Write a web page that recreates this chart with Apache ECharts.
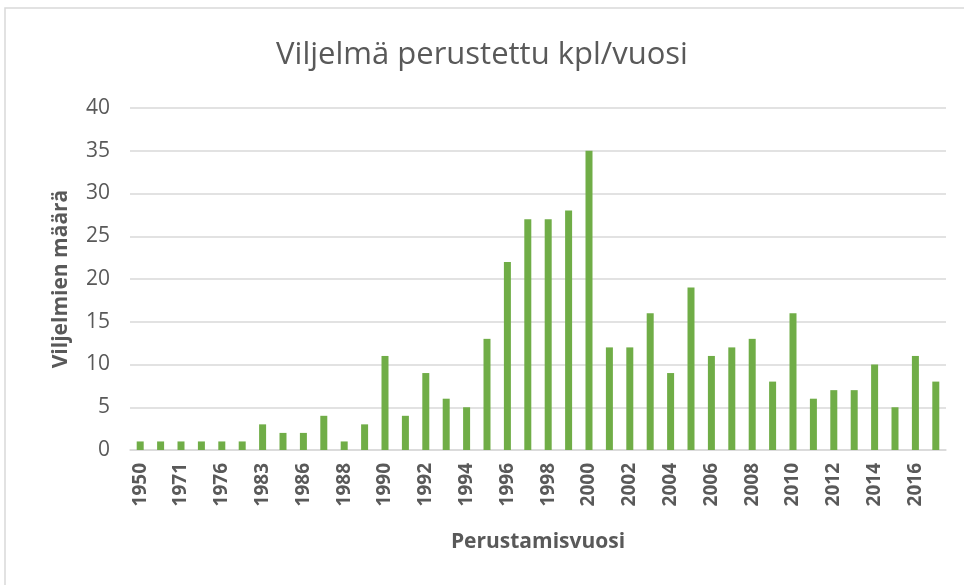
<!DOCTYPE html>
<html>
<head>
<meta charset="utf-8">
<script src="https://cdn.jsdelivr.net/npm/echarts@6/dist/echarts.min.js"></script>
<style>
  html, body { margin: 0; padding: 0; background: #fff; }
  #chart { width: 964px; height: 585px; }
</style>
</head>
<body>
<div id="chart"></div>
<script>
// founding years (every other label is shown on the axis)
const years = [
  "1950", "1960", "1971", "1973", "1976", "1980", "1983", "1985", "1986", "1987",
  "1988", "1989", "1990", "1991", "1992", "1993", "1994", "1995", "1996", "1997",
  "1998", "1999", "2000", "2001", "2002", "2003", "2004", "2005", "2006", "2007",
  "2008", "2009", "2010", "2011", "2012", "2013", "2014", "2015", "2016", "2017"
];
const counts = [
  1, 1, 1, 1, 1, 1, 3, 2, 2, 4,
  1, 3, 11, 4, 9, 6, 5, 13, 22, 27,
  27, 28, 35, 12, 12, 16, 9, 19, 11, 12,
  13, 8, 16, 6, 7, 7, 10, 5, 11, 8
];
const yTicks = [0, 5, 10, 15, 20, 25, 30, 35, 40];

const textColor = "#595959";
const font = "'Open Sans', 'Noto Sans', sans-serif";

const chart = echarts.init(document.getElementById("chart"));

const option = {
  backgroundColor: "#fff",
  animation: false,
  title: {
    text: "Viljelmä perustettu kpl/vuosi",
    left: "center",
    top: 35,
    textStyle: {
      fontFamily: font,
      fontWeight: "normal",
      fontSize: 31,
      color: textColor,
    },
  },
  graphic: [
    {
      type: "rect",
      shape: { x: 5, y: 8, width: 975, height: 600 },
      style: { fill: "none", stroke: "#d9d9d9", lineWidth: 1.5 },
      silent: true,
    },
  ],
  grid: {
    left: 130,
    right: 18,
    top: 108,
    bottom: 135,
  },
  xAxis: {
    type: "category",
    data: years,
    name: "Perustamisvuosi",
    nameLocation: "middle",
    nameGap: 82,
    nameTextStyle: {
      fontFamily: font,
      fontWeight: "bold",
      fontSize: 21,
      color: textColor,
    },
    axisLine: { lineStyle: { color: "#d9d9d9", width: 1.5 } },
    axisTick: { show: false },
    axisLabel: {
      interval: 1,
      rotate: 90,
      margin: 13,
      fontFamily: font,
      fontWeight: "bold",
      fontSize: 19,
      color: textColor,
    },
  },
  yAxis: {
    type: "value",
    min: yTicks[0],
    max: yTicks[yTicks.length - 1],
    interval: 5,
    name: "Viljelmien määrä",
    nameLocation: "middle",
    nameGap: 58,
    nameTextStyle: {
      fontFamily: font,
      fontWeight: "bold",
      fontSize: 21,
      color: textColor,
    },
    axisLine: { show: false },
    axisTick: { show: false },
    axisLabel: {
      margin: 20,
      fontFamily: font,
      fontSize: 21,
      color: textColor,
    },
    splitLine: { lineStyle: { color: "#d9d9d9", width: 1.5 } },
  },
  series: [
    {
      type: "bar",
      data: counts,
      barWidth: 7,
      itemStyle: { color: "#70ad47" },
    },
  ],
};

chart.setOption(option);
</script>
</body>
</html>
